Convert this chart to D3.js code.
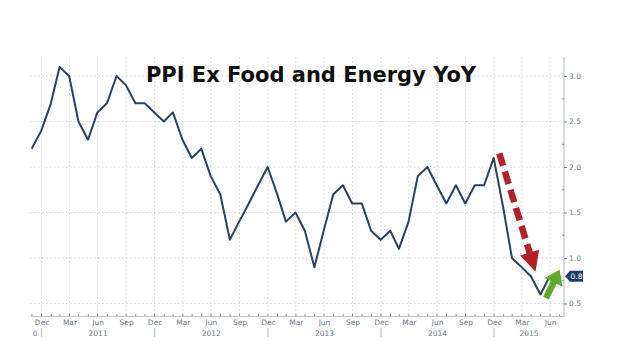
<!DOCTYPE html>
<html>
<head>
<meta charset="utf-8">
<script src="https://cdn.jsdelivr.net/npm/d3@7"></script>
<style>
  body { margin: 0; background: #fff; }
</style>
</head>
<body>
<div id="chart"></div>
<script>
// monthly values, first one is Nov 2010
const firstYear = 2010, firstMonth = 10;
const values = [
    2.2, 2.4,
    2.7, 3.1, 3.0, 2.5, 2.3, 2.6, 2.7, 3.0, 2.9, 2.7, 2.7, 2.6,
    2.5, 2.6, 2.3, 2.1, 2.2, 1.9, 1.7, 1.2, 1.4, 1.6, 1.8, 2.0,
    1.7, 1.4, 1.5, 1.3, 0.9, 1.3, 1.7, 1.8, 1.6, 1.6, 1.3, 1.2,
    1.3, 1.1, 1.4, 1.9, 2.0, 1.8, 1.6, 1.8, 1.6, 1.8, 1.8, 2.1,
    1.55, 1.0, 0.9, 0.8, 0.6, 0.8
];
const yTicks = [0.5, 1.0, 1.5, 2.0, 2.5, 3.0];
const yMinorTicks = [0.75, 1.25, 1.75, 2.25, 2.75];
const quarterLabels = ['Dec', 'Mar', 'Jun', 'Sep'];   // label of the month before each quarter start
const years = [2010, 2011, 2012, 2013, 2014, 2015];
const titleText = 'PPI Ex Food and Energy YoY';
const lastValueText = '0.8';

const width = 630, height = 360;
const plot = { left: 30, right: 564, top: 57, bottom: 316 };
const lineColor = '#2a4260';
const axisColor = '#b9c3cc';
const labelColor = '#6e7a86';
const font = '"DejaVu Sans", Verdana, sans-serif';

const dates = values.map((v, i) => new Date(Date.UTC(firstYear, firstMonth + i + 1, 0)));

// Dec 31 2010 .. Dec 31 2014 sit on the quarter grid lines
const anchor = d3.scaleUtc()
    .domain([Date.UTC(2011, 0, 1), Date.UTC(2015, 0, 1)])
    .range([41.6, 494]);
const x = d3.scaleUtc()
    .domain([anchor.invert(plot.left), anchor.invert(plot.right)])
    .range([plot.left, plot.right]);

const y = d3.scaleLinear()
    .domain([0.363, 3.209])
    .range([plot.bottom, plot.top]);

const svg = d3.select('#chart').append('svg')
    .attr('width', width)
    .attr('height', height)
    .attr('viewBox', [0, 0, width, height])
    .style('font-family', font);

svg.append('defs').append('clipPath').attr('id', 'xclip')
    .append('rect')
    .attr('x', plot.left + 3).attr('y', 0)
    .attr('width', plot.right - plot.left).attr('height', height);

// grid
const quarters = d3.utcMonth.every(3).range(x.domain()[0], x.domain()[1]);

svg.append('g')
    .selectAll('line')
    .data(quarters)
    .join('line')
    .attr('x1', d => x(d)).attr('x2', d => x(d))
    .attr('y1', plot.top).attr('y2', plot.bottom)
    .attr('stroke', '#cfd3d8')
    .attr('stroke-width', 1)
    .attr('stroke-dasharray', '1.5,2.5');

svg.append('g')
    .selectAll('line')
    .data(yTicks)
    .join('line')
    .attr('x1', plot.left).attr('x2', plot.right)
    .attr('y1', d => y(d)).attr('y2', d => y(d))
    .attr('stroke', '#cfd3d8')
    .attr('stroke-width', 1)
    .attr('stroke-dasharray', '1.5,2.5');

// x axis
svg.append('g')
    .attr('transform', `translate(0,${plot.bottom})`)
    .call(d3.axisBottom(x)
        .tickValues(quarters)
        .tickSize(0)
        .tickPadding(4)
        .tickFormat(d => quarterLabels[d.getUTCMonth() / 3]))
    .call(g => {
        g.select('.domain').attr('stroke', axisColor).attr('stroke-width', 1.2);
        g.selectAll('.tick text')
            .attr('fill', labelColor)
            .attr('font-size', 7.5)
            .attr('font-family', font);
    });

// monthly minor ticks
svg.append('g')
    .selectAll('line')
    .data(d3.utcMonth.range(x.domain()[0], x.domain()[1]))
    .join('line')
    .attr('x1', d => x(d)).attr('x2', d => x(d))
    .attr('y1', plot.bottom - 2).attr('y2', plot.bottom)
    .attr('stroke', '#8a96a2');

// years
const yearStarts = years.map(yr => new Date(Date.UTC(yr, 0, 1)));
svg.append('g')
    .selectAll('line')
    .data(yearStarts.filter(d => x(d) > plot.left))
    .join('line')
    .attr('x1', d => x(d)).attr('x2', d => x(d))
    .attr('y1', plot.bottom + 12).attr('y2', plot.bottom + 21)
    .attr('stroke', '#b0b8c0');

svg.append('g')
    .attr('clip-path', 'url(#xclip)')
    .selectAll('text')
    .data(years)
    .join('text')
    .attr('x', yr => {
        const a = x(new Date(Date.UTC(yr, 0, 1)));
        const b = x(new Date(Date.UTC(yr + 1, 0, 1)));
        if (a < plot.left) return b - 4;
        return (a + Math.min(b, plot.right)) / 2;
    })
    .attr('text-anchor', yr => x(new Date(Date.UTC(yr, 0, 1))) < plot.left ? 'end' : 'middle')
    .attr('y', plot.bottom + 20)
    .attr('fill', labelColor)
    .attr('font-size', 7.5)
    .text(yr => yr);

// y axis on the right
svg.append('g')
    .attr('transform', `translate(${plot.right},0)`)
    .call(d3.axisRight(y)
        .tickValues(yTicks)
        .tickSize(3)
        .tickPadding(2)
        .tickFormat(d3.format('.1f')))
    .call(g => {
        g.select('.domain')
            .attr('d', `M0,${plot.top}V${plot.bottom}`)
            .attr('stroke', axisColor).attr('stroke-width', 1.2);
        g.selectAll('.tick line').attr('stroke', '#7d8994');
        g.selectAll('.tick text')
            .attr('fill', labelColor)
            .attr('font-size', 7.5)
            .attr('font-family', font);
    });

svg.append('g')
    .selectAll('line')
    .data(yMinorTicks)
    .join('line')
    .attr('x1', plot.right - 2).attr('x2', plot.right)
    .attr('y1', d => y(d)).attr('y2', d => y(d))
    .attr('stroke', '#8a96a2');

// series
const line = d3.line()
    .x((d, i) => x(dates[i]))
    .y(d => y(d));

svg.append('path')
    .datum(values)
    .attr('fill', 'none')
    .attr('stroke', lineColor)
    .attr('stroke-width', 2)
    .attr('stroke-linejoin', 'round')
    .attr('d', line);

// last value badge
const lastY = y(values[values.length - 1]);
const bx = plot.right + 1;
svg.append('path')
    .attr('d', `M${bx},${lastY}L${bx + 5},${lastY - 5.5}H${bx + 18}V${lastY + 5.5}H${bx + 5}Z`)
    .attr('fill', '#1d3f68');
svg.append('text')
    .attr('x', bx + 11.5)
    .attr('y', lastY + 2.8)
    .attr('text-anchor', 'middle')
    .attr('fill', '#fff')
    .attr('font-size', 7.5)
    .text(lastValueText);

// title
svg.append('text')
    .attr('x', 311)
    .attr('y', 82)
    .attr('text-anchor', 'middle')
    .attr('font-size', 21)
    .attr('font-weight', 'bold')
    .attr('fill', '#111')
    .text(titleText);

// annotation arrows
function arrow(p0, p1, opts) {
    const dx = p1[0] - p0[0], dy = p1[1] - p0[1];
    const len = Math.hypot(dx, dy);
    const ux = dx / len, uy = dy / len;
    const base = [p1[0] - ux * opts.headLen, p1[1] - uy * opts.headLen];
    svg.append('line')
        .attr('x1', p0[0]).attr('y1', p0[1])
        .attr('x2', base[0] + ux * 1).attr('y2', base[1] + uy * 1)
        .attr('stroke', opts.color)
        .attr('stroke-width', opts.shaft)
        .attr('stroke-dasharray', opts.dash || null);
    const px = -uy, py = ux;
    svg.append('path')
        .attr('d', `M${p1[0]},${p1[1]}` +
            `L${base[0] + px * opts.headW},${base[1] + py * opts.headW}` +
            `L${base[0] - px * opts.headW},${base[1] - py * opts.headW}Z`)
        .attr('fill', opts.color);
}

arrow([x(new Date(Date.UTC(2015, 0, 18))), y(2.15)],
      [x(new Date(Date.UTC(2015, 4, 15))), y(0.85)],
      { color: '#b3202a', shaft: 6.5, dash: '13,6', headLen: 20, headW: 10 });

arrow([x(new Date(Date.UTC(2015, 5, 18))), y(0.56)],
      [x(new Date(Date.UTC(2015, 7, 1))), y(0.87)],
      { color: '#62a82a', shaft: 6.5, headLen: 14, headW: 10 });
</script>
</body>
</html>
